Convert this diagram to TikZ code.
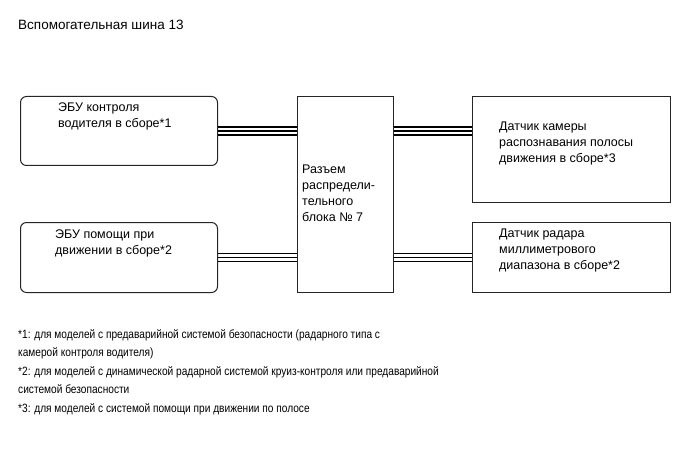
\documentclass[tikz,border=0pt]{standalone}
\usepackage{fontspec}
\setmainfont{Liberation Sans}
\newfontfamily\notefont[FakeStretch=0.845]{Liberation Sans}
\usetikzlibrary{positioning}

\begin{document}
\begin{tikzpicture}[
  x=1pt, y=-1pt,
  every node/.style={font=\fontsize{12.5}{16}\selectfont, inner sep=0pt},
  ecu/.style={draw=black!85, line width=1pt, rounded corners=6pt,
              minimum width=197pt, anchor=north west},
  blk/.style={draw=black!85, line width=1pt, anchor=north west},
  lbl/.style={align=left, anchor=north west},
  wire/.style={line width=1.2pt},
]
\useasboundingbox (0,0) rectangle (690,465);
\node[lbl, font=\fontsize{13.5}{16}\selectfont] (title) at (18,20)
  {Вспомогательная шина 13};

% blocks
\node[ecu, minimum height=69pt] (drv) at (20,96) {};
\node[ecu, minimum height=70pt] (asst) at (20,222) {};
\node[blk, minimum width=96pt, minimum height=196pt] (hub) at (297,96) {};
\node[blk, minimum width=198pt, minimum height=106pt] (cam) at (472,96) {};
\node[blk, minimum width=198pt, minimum height=70pt] (radar) at (472,222) {};

% labels
\node[lbl, below right=7pt and 38pt of drv.north west] (drvtxt)
  {ЭБУ контроля\\водителя в сборе*1};
\node[lbl, below right=8pt and 35pt of asst.north west] (assttxt)
  {ЭБУ помощи при\\движении в сборе*2};
\node[lbl, below right=69pt and 5pt of hub.north west] (hubtxt)
  {Разъем\\распредели-\\тельного\\блока № 7};
\node[lbl, below right=26pt and 27pt of cam.north west] (camtxt)
  {Датчик камеры\\распознавания полосы\\движения в сборе*3};
\node[lbl, below right=7pt and 27pt of radar.north west] (radartxt)
  {Датчик радара\\миллиметрового\\диапазона в сборе*2};

% wire harnesses
\foreach \d in {-4,0,4} {
  \draw[wire] ([yshift=\d pt]drv.east) -- ([yshift=\d pt]drv.east -| hub.west);
  \draw[wire] ([yshift=\d pt]asst.east) -- ([yshift=\d pt]asst.east -| hub.west);
  \draw[wire] ([yshift=\d pt]drv.east -| hub.east) -- ([yshift=\d pt]drv.east -| cam.west);
  \draw[wire] ([yshift=\d pt]radar.west -| hub.east) -- ([yshift=\d pt]radar.west);
}

\node[lbl, font=\notefont\fontsize{12}{18.5}\selectfont] (notes) at (18,329)
  {*1: для моделей с предаварийной системой безопасности (радарного типа с\\
   камерой контроля водителя)\\
   *2: для моделей с динамической радарной системой круиз-контроля или предаварийной\\
   системой безопасности\\
   *3: для моделей с системой помощи при движении по полосе};
\end{tikzpicture}
\end{document}
